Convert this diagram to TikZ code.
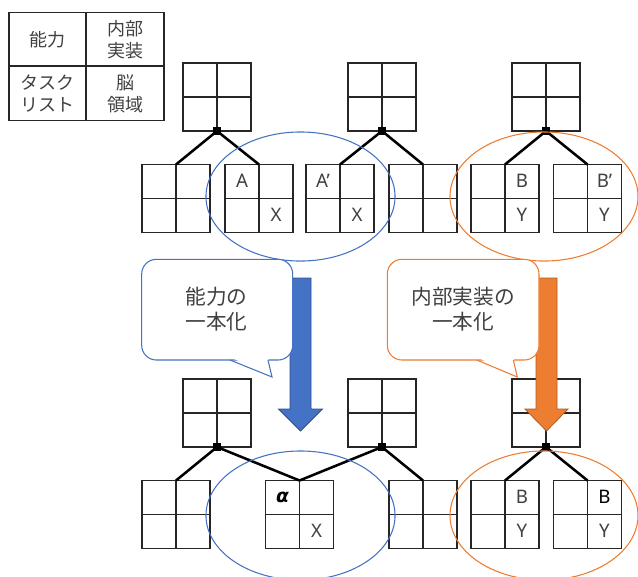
\documentclass[tikz,border=0pt]{standalone}
\usepackage{fontspec}
\setmainfont{Noto Sans CJK JP}
\newfontfamily\latf{Noto Sans}
\newfontfamily\grkf{DejaVu Sans}
\definecolor{gridc}{HTML}{262626}
\definecolor{txtc}{HTML}{404040}
\definecolor{oblue}{HTML}{4472C4}
\definecolor{oblueD}{HTML}{2F528F}
\definecolor{oorange}{HTML}{ED7D31}
\definecolor{oorangeD}{HTML}{AE5A21}
\begin{document}
\begin{tikzpicture}[x=0.75pt,y=-0.75pt,
  grid2/.style={draw=gridc, line width=1.1pt, minimum size=51pt, inner sep=0pt, outer sep=0pt,
    path picture={\draw[gridc, line width=1.1pt]
      (path picture bounding box.north) -- (path picture bounding box.south)
      (path picture bounding box.west) -- (path picture bounding box.east);}},
  junc/.style={fill=black, inner sep=0pt, minimum width=6.5pt, minimum height=6pt},
  tree/.style={line width=1.9pt, black},
  lbl/.style={inner sep=0pt, text=txtc, font=\latf\fontsize{14}{16}\selectfont},
  lgd/.style={inner sep=0pt, text=txtc, align=center, font=\fontsize{13.5}{16.5}\selectfont},
  call/.style={inner sep=0pt, text=txtc, align=center, font=\fontsize{15.5}{19}\selectfont},
  bluering/.style={draw=oblue, line width=0.8pt},
  orangering/.style={draw=oorange, line width=0.8pt}
]
\useasboundingbox (0,0) rectangle (638,576);

% legend table
\draw[gridc, line width=1.1pt] (9,12.7) rectangle (164,120.7);
\draw[gridc, line width=1.1pt] (86,12.7) -- (86,120.7) (9,66) -- (164,66);
\node[lgd] (lg1) at (47.5,40) {能力};
\node[lgd] (lg2) at (125,40) {内部\\実装};
\node[lgd] (lg3) at (47.5,94) {タスク\\リスト};
\node[lgd] (lg4) at (125,94) {脳\\領域};

% ---------- top row ----------
\node[grid2] (P1) at (217,97) {};
\node[grid2] (P2) at (382,97) {};
\node[grid2] (P3) at (546,97) {};
\node[grid2] (C1) at (176,198.5) {};
\node[grid2] (C2) at (259,198.5) {};
\node[grid2] (C3) at (340,198.5) {};
\node[grid2] (C4) at (423,198.5) {};
\node[grid2] (C5) at (505,198.5) {};
\node[grid2] (C6) at (587.5,198.5) {};

\node[junc] (J1) at (P1.south) {};
\node[junc] (J2) at (P2.south) {};
\node[junc] (J3) at (P3.south) {};
\draw[tree] (J1.center) -- (C1.north);
\draw[tree] (J1.center) -- (C2.north);
\draw[tree] (J2.center) -- (C3.north);
\draw[tree] (J2.center) -- (C4.north);
\draw[tree] (J3.center) -- (C5.north);
\draw[tree] (J3.center) -- (C6.north);

\node[lbl] (tA)  at (242,181) {A};
\node[lbl] (tX1) at (276,215) {X};
\node[lbl] (tA2) at (323,181) {A’};
\node[lbl] (tX2) at (357,215) {X};
\node[lbl] (tB)  at (522,181) {B};
\node[lbl] (tY1) at (522,215) {Y};
\node[lbl] (tB2) at (604.5,181) {B’};
\node[lbl] (tY2) at (604.5,215) {Y};

\draw[bluering] (300.5,196.5) ellipse [x radius=70.9pt, y radius=48.4pt];
\draw[orangering] (544,196.5) ellipse [x radius=70.5pt, y radius=48.4pt];

% ---------- bottom row ----------
\node[grid2] (Q1) at (217,413) {};
\node[grid2] (Q2) at (382,413) {};
\node[grid2] (Q3) at (546,413) {};
\node[grid2] (D1) at (176,514.5) {};
\node[grid2] (D2) at (299.5,514.5) {};
\node[grid2] (D4) at (423,514.5) {};
\node[grid2] (D5) at (505,514.5) {};
\node[grid2] (D6) at (587.5,514.5) {};

% arrows (under callouts)
\draw[fill=oblue, draw=oblueD, line width=0.6pt]
  (290,278) -- (311,278) -- (311,409) -- (322.5,409) -- (300.5,431) -- (278.5,409) -- (290,409) -- cycle;
\draw[fill=oorange, draw=oorangeD, line width=0.6pt]
  (536,278) -- (557,278) -- (557,409) -- (568,409) -- (546.5,431) -- (525,409) -- (536,409) -- cycle;

\node[junc] (K1) at (Q1.south) {};
\node[junc] (K2) at (Q2.south) {};
\node[junc] (K3) at (Q3.south) {};
\draw[tree] (K1.center) -- (D1.north);
\draw[tree] (K1.center) -- (D2.north);
\draw[tree] (K2.center) -- (D2.north);
\draw[tree] (K2.center) -- (D4.north);
\draw[tree] (K3.center) -- (D5.north);
\draw[tree] (K3.center) -- (D6.north);

\node[inner sep=0pt, text=black, font=\grkf\bfseries\itshape\fontsize{14}{16}\selectfont] (tal) at (282.5,497.5) {α};
\node[lbl] (tX3) at (316.5,531) {X};
\node[lbl] (tB3) at (522,497) {B};
\node[lbl] (tY3) at (522,531) {Y};
\node[lbl, text=black, font=\latf\bfseries\fontsize{14}{16}\selectfont] (tB4) at (604.5,497) {B};
\node[lbl] (tY4) at (604.5,531) {Y};

\draw[bluering] (300.5,515.5) ellipse [x radius=70.9pt, y radius=48.4pt];
\draw[orangering] (544,515.5) ellipse [x radius=70.5pt, y radius=48.4pt];

% ---------- callouts ----------
\draw[draw=oblue, fill=white, line width=0.8pt, rounded corners=11pt] (141.7,259.3) rectangle (292.7,360);
\fill[white] (230,357) -- (268,357) -- (272,377) -- cycle;
\draw[draw=oblue, line width=0.8pt, line join=miter] (230,360) -- (272,377) -- (268,360);
\node[call] (cb) at (216.5,309) {能力の\\一本化};

\draw[draw=oorange, fill=white, line width=0.8pt, rounded corners=11pt] (387.3,259.3) rectangle (539,360);
\fill[white] (476.7,357) -- (513.3,357) -- (517.3,377) -- cycle;
\draw[draw=oorange, line width=0.8pt, line join=miter] (476.7,360) -- (517.3,377) -- (513.3,360);
\node[call] (co) at (463.3,309) {内部実装の\\一本化};
\end{tikzpicture}
\end{document}
